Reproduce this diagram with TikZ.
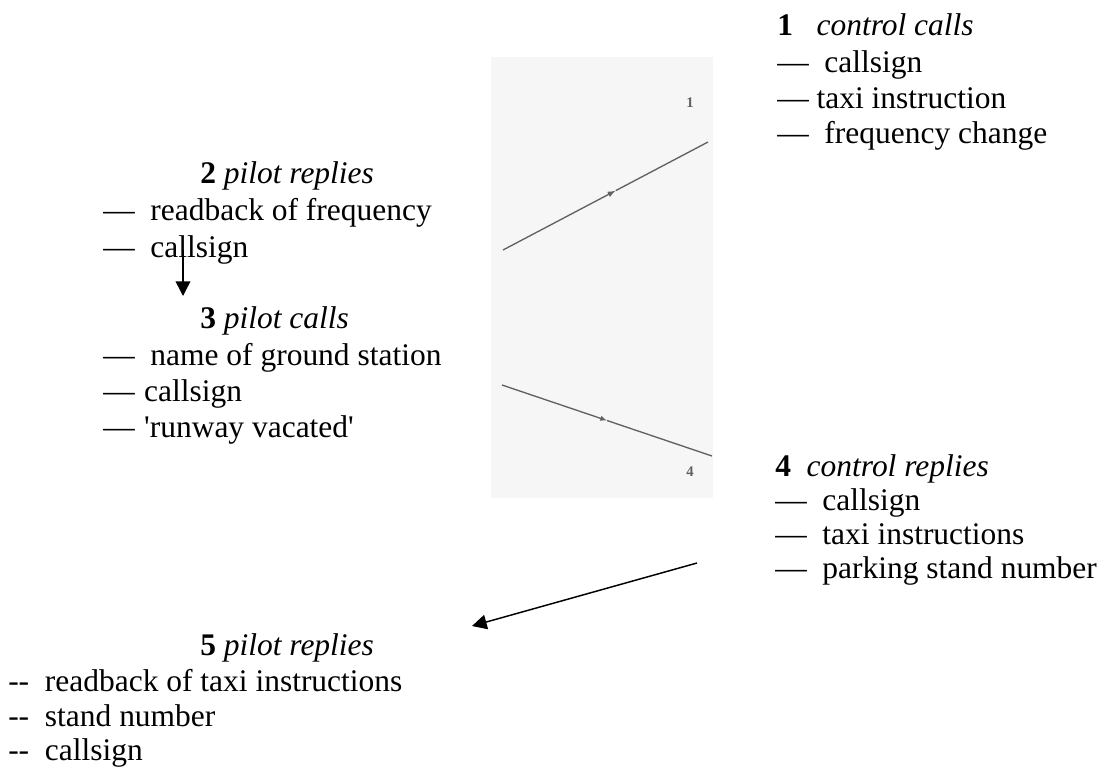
\documentclass[tikz,border=0pt]{standalone}
\usepackage{fontspec}
\setmainfont{Liberation Serif}[Ligatures=TeXOff]
\usetikzlibrary{arrows.meta}
\definecolor{scanbg}{gray}{0.965}
\definecolor{scanline}{gray}{0.38}
\tikzset{
  txt/.style={anchor=base west,inner sep=0pt,font=\fontsize{23.6}{27}\selectfont},
  scanlbl/.style={inner sep=0pt,text=scanline,font=\fontsize{11}{12}\selectfont\bfseries},
  flow/.style={line width=1.1pt,-{Triangle[length=11pt,width=11pt]}},
  scan/.style={scanline,line width=1pt},
}

\begin{document}
\begin{tikzpicture}[x=0.75pt,y=-0.75pt]
  \useasboundingbox (0,0) rectangle (1109,772);
  % scanned picture in the middle
  \fill[scanbg] (491,57) rectangle (713,498);
  \coordinate (u1) at (503,250);
  \coordinate (u2) at (708,142);
  \coordinate (d1) at (502,385);
  \coordinate (d2) at (712,456);
  \path (u1) -- (u2) coordinate[pos=0.55] (um);
  \path (d1) -- (d2) coordinate[pos=0.5] (dm);
  \draw[scan,-{Latex[length=6pt,width=4.5pt]}] (u1) -- (um);
  \draw[scan] (um) -- (u2);
  \draw[scan,-{Latex[length=5pt,width=4pt]}] (d1) -- (dm);
  \draw[scan] (dm) -- (d2);
  \node[scanlbl] (n1) at (690,103) {1};
  \node[scanlbl] (n4) at (690,472) {4};

  % 1
  \node[txt] (h1) at (777,35) {\textbf{1}\ \ \ \textit{control calls}};
  \node[txt] (a1) at (777,72) {—\ \ callsign};
  \node[txt] (b1) at (777,108) {— taxi instruction};
  \node[txt] (c1) at (777,143) {—\ \ frequency change};

  % 2
  \node[txt] (h2) at (200,183) {\textbf{2} \textit{pilot replies}};
  \node[txt] (a2) at (103,220) {—\ \ readback of frequency};
  \node[txt] (b2) at (103,257) {—\ \ callsign};
  \coordinate (s2) at (183,250);
  \coordinate (e2) at (183,296);
  \draw[flow] (s2) -- (e2);

  % 3
  \node[txt] (h3) at (200,328) {\textbf{3} \textit{pilot calls}};
  \node[txt] (a3) at (103,365) {—\ \ name of ground station};
  \node[txt] (b3) at (103,401) {—\hspace{0.3em}callsign};
  \node[txt] (c3) at (103,437) {—\hspace{0.3em}'runway vacated'};

  % 4
  \node[txt] (h4) at (775,476) {\textbf{4}\ \ \textit{control replies}};
  \node[txt] (a4) at (775,510) {—\ \ callsign};
  \node[txt] (b4) at (775,544) {—\ \ taxi instructions};
  \node[txt] (c4) at (775,578) {—\ \ parking stand number};

  % 5
  \coordinate (s5) at (697,563);
  \coordinate (e5) at (472,626);
  \draw[flow] (s5) -- (e5);
  \node[txt] (h5) at (200,655) {\textbf{5} \textit{pilot replies}};
  \node[txt] (a5) at (8,691) {--\ \ readback of taxi instructions};
  \node[txt] (b5) at (8,726) {--\ \ stand number};
  \node[txt] (c5) at (8,760) {--\ \ callsign};
\end{tikzpicture}
\end{document}
